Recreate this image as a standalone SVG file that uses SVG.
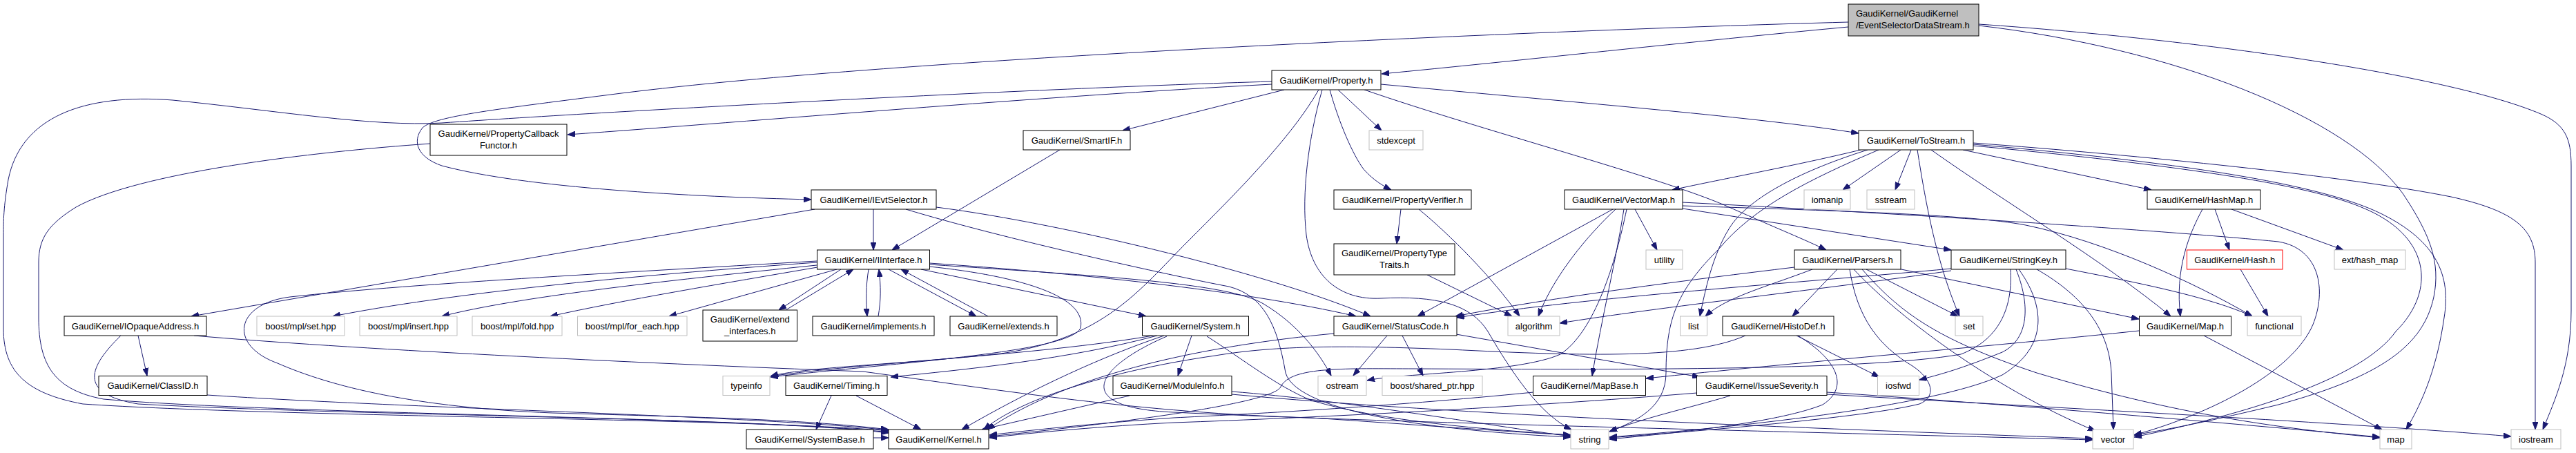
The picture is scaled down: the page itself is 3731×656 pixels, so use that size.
<svg xmlns="http://www.w3.org/2000/svg" width="3731" height="656" viewBox="0 0 3731 656">
<style>
.n rect{fill:#ffffff;stroke:#000000;stroke-width:1}
.x rect{fill:#ffffff;stroke:#bfbfbf;stroke-width:1}
.r rect{fill:#ffffff;stroke:#ff0000;stroke-width:1}
.m rect{fill:#bfbfbf;stroke:#000000;stroke-width:1}
text{font-family:"Liberation Sans",Arial,Helvetica,sans-serif;font-size:13px;fill:#000000;text-anchor:middle}
.m text{text-anchor:start}
#edges path{fill:none;stroke:#191970;stroke-width:1;marker-end:url(#a)}
</style>
<defs>
<marker id="a" viewBox="0 0 11 8" refX="11" refY="4" markerWidth="11" markerHeight="8" markerUnits="userSpaceOnUse" orient="auto">
<path d="M0,0 L11,4 L0,8 z" fill="#191970" stroke="#191970" stroke-width="1"/>
</marker>
</defs>
<rect x="0" y="0" width="3731" height="656" fill="#ffffff"/>
<g id="edges">
<path d="M2677,39 C2450,60 2200,88 2001,107"/>
<path d="M2677,32 C2200,45 1300,85 900,135 C720,158 630,168 612,185 C596,205 605,228 640,240 C760,272 1000,285 1175,289"/>
<path d="M2866,35 C3200,58 3550,110 3680,165 C3715,180 3724,200 3724,240 L3724,450 C3724,530 3700,580 3683,622"/>
<path d="M2866,37 C3150,70 3400,170 3480,280 C3520,340 3535,380 3525,430 C3510,500 3450,545 3300,586 C3200,610 3150,620 3091,630"/>
<path d="M1842,122 C1500,140 1100,175 822,195"/>
<path d="M1860,130 L1626,189"/>
<path d="M1938,130 L2001,189"/>
<path d="M1926,130 C1940,180 1960,225 1975,245 C1990,262 2005,270 2015,275"/>
<path d="M2000,122 C2300,150 2550,170 2692,193"/>
<path d="M1976,130 C2150,190 2400,255 2500,298 C2560,325 2610,345 2645,362"/>
<path d="M1915,130 C1895,200 1885,280 1892,340 C1900,400 1940,435 2000,432 C2080,428 2130,440 2155,480 C2190,540 2230,600 2276,622"/>
<path d="M1910,130 C1870,200 1790,280 1720,350 C1650,420 1600,490 1450,512 C1300,528 1160,532 1116,545"/>
<path d="M1842,118 C1500,128 900,160 640,178 C540,184 400,160 250,145 C120,135 30,170 12,260 C5,300 5,320 5,340 L5,476 C5,540 40,570 120,585 C400,604 1100,606 1287,624"/>
<path d="M623,208 C450,220 200,250 110,300 C70,325 56,345 56,380 L56,460 C56,530 80,565 150,578 C400,600 1100,604 1287,626"/>
<path d="M1535,217 L1292,362"/>
<path d="M1265,303 L1265,362"/>
<path d="M1180,303 L277,458"/>
<path d="M1356,300 C1550,325 1850,400 1985,458"/>
<path d="M1312,303 C1450,345 1700,400 1780,415 C1830,428 1850,470 1862,540 C1880,600 2100,625 2275,633"/>
<path d="M2029,303 L2023,353"/>
<path d="M2055,303 C2100,340 2160,400 2201,458"/>
<path d="M2067,398 L2190,458"/>
<path d="M2695,217 C2600,240 2500,258 2422,275"/>
<path d="M2705,217 C2600,250 2530,290 2505,330 C2480,370 2470,420 2462,458"/>
<path d="M2721,217 C2620,260 2540,300 2490,360 C2430,420 2413,460 2413,540 C2413,590 2370,610 2331,625"/>
<path d="M2753,217 L2669,275"/>
<path d="M2768,217 L2745,275"/>
<path d="M2777,217 C2790,300 2805,380 2838,458"/>
<path d="M2797,217 C2900,290 3050,380 3144,458"/>
<path d="M2843,217 L3116,275"/>
<path d="M2858,207 C3100,225 3400,255 3550,285 C3640,305 3672,330 3672,380 L3672,622"/>
<path d="M2858,209 C3100,230 3350,260 3450,310 C3530,350 3550,400 3540,460 C3530,530 3510,580 3485,622"/>
<path d="M2858,211 C3100,234 3330,262 3420,300 C3520,340 3530,420 3470,480 C3420,550 3250,600 3091,633"/>
<path d="M2336,303 L2053,458"/>
<path d="M2340,303 C2300,340 2250,400 2228,458"/>
<path d="M2352,303 C2340,380 2320,460 2306,544"/>
<path d="M2356,303 C2340,380 2310,480 2260,513 C2200,540 2030,540 1980,551"/>
<path d="M2368,303 L2400,362"/>
<path d="M2437,302 L2826,362"/>
<path d="M2437,298 C2650,305 2850,310 2934,326 C3050,350 3180,410 3262,458"/>
<path d="M2437,293 C2800,312 3150,335 3300,350 C3360,360 3370,420 3350,470 C3320,540 3200,600 3091,630"/>
<path d="M3190,303 C3170,340 3150,390 3158,458"/>
<path d="M3208,303 L3229,362"/>
<path d="M3232,303 L3394,362"/>
<path d="M3245,390 L3285,458"/>
<path d="M1183,378 C950,392 600,410 420,430 C340,440 330,500 402,526 C480,560 600,590 800,598 C1000,604 1150,606 1287,622"/>
<path d="M1183,380 C900,400 650,425 482,458"/>
<path d="M1183,384 C950,408 750,430 640,458"/>
<path d="M1184,387 C1050,410 900,435 797,458"/>
<path d="M1212,390 L969,458"/>
<path d="M1218,390 L1128,449"/>
<path d="M1138,449 L1236,390"/>
<path d="M1258,390 C1254,415 1254,435 1256,458"/>
<path d="M1272,458 C1276,435 1276,415 1273,390"/>
<path d="M1287,390 L1414,458"/>
<path d="M1431,458 L1305,390"/>
<path d="M1334,390 L1660,458"/>
<path d="M1346,381 C1550,395 1800,420 1964,458"/>
<path d="M1346,383 C1600,400 1780,410 1830,440 C1880,470 1910,510 1928,544"/>
<path d="M1346,386 C1480,400 1575,430 1565,475 C1550,510 1300,525 1116,546"/>
<path d="M2599,387 C2450,405 2250,430 2108,458"/>
<path d="M2625,390 C2560,415 2500,430 2470,458"/>
<path d="M2661,390 L2596,458"/>
<path d="M2679,390 C2690,460 2720,500 2770,530 C2800,550 2805,575 2780,585 C2700,605 2450,625 2331,634"/>
<path d="M2685,390 C2740,450 2880,560 3035,624"/>
<path d="M2697,390 C2750,450 2800,490 2950,540 C3150,600 3300,620 3447,634"/>
<path d="M2703,390 L2836,458"/>
<path d="M2749,389 L3098,462"/>
<path d="M2826,389 C2600,410 2300,430 2110,460"/>
<path d="M2826,392 C2650,418 2400,445 2259,468"/>
<path d="M2912,390 C2915,440 2900,490 2840,513 C2700,538 2300,535 2050,534 C1950,534 1870,530 1855,560 C1845,585 1600,615 1433,632"/>
<path d="M2920,390 C2940,440 2940,490 2900,510 C2850,530 2820,540 2780,550"/>
<path d="M2924,390 C2960,440 2970,500 2900,543 C2800,590 2500,620 2331,633"/>
<path d="M2950,390 C3020,430 3055,480 3058,540 L3061,622"/>
<path d="M2992,389 C3100,410 3200,430 3262,458"/>
<path d="M175,486 C130,530 110,570 200,585 C500,602 1100,604 1287,627"/>
<path d="M200,486 L213,544"/>
<path d="M281,486 C500,505 900,525 1250,538 C1450,565 1650,598 1900,605 C2050,615 2180,625 2275,630"/>
<path d="M1676,486 C1550,520 1400,535 1290,546"/>
<path d="M1670,486 C1500,515 1250,525 1116,545"/>
<path d="M1686,486 C1600,515 1500,560 1393,622"/>
<path d="M1726,486 L1706,544"/>
<path d="M1748,487 C1800,520 1850,560 1900,580 C2000,610 2150,622 2275,630"/>
<path d="M1690,487 C1590,530 1545,590 1700,597 C2000,612 2600,625 3031,637"/>
<path d="M1932,483 C1750,500 1550,540 1430,622"/>
<path d="M2009,486 L1960,544"/>
<path d="M2031,486 L2061,544"/>
<path d="M2109,484 L2462,546"/>
<path d="M2528,486 C2450,520 2300,516 2100,506 C1950,500 1850,500 1760,515 C1620,535 1480,575 1425,622"/>
<path d="M2602,486 L2722,546"/>
<path d="M2604,486 C2660,520 2680,560 2640,586 C2580,610 2450,625 2331,636"/>
<path d="M3098,479 C2900,500 2600,525 2384,548"/>
<path d="M3192,486 L3450,622"/>
<path d="M300,572 C600,592 1100,602 1287,623"/>
<path d="M1204,573 L1182,622"/>
<path d="M1240,573 L1334,622"/>
<path d="M1636,573 L1422,622"/>
<path d="M1784,567 C1950,580 2150,615 2275,632"/>
<path d="M1784,571 C2100,600 2600,620 3031,635"/>
<path d="M2221,568 C2000,590 1800,600 1700,605 C1600,612 1500,622 1433,630"/>
<path d="M2458,569 C2200,590 1900,605 1700,612 C1600,617 1500,626 1433,634"/>
<path d="M2506,573 C2450,590 2380,605 2331,625"/>
<path d="M2646,568 C2900,585 3200,610 3447,633"/>
<path d="M2646,571 C3000,592 3400,612 3637,632"/>
<path d="M1265,634 L1287,634"/>
</g>
<g id="n_main" class="m"><rect x="2677" y="6" width="189" height="46"/><text x="2688" y="24.2">GaudiKernel/GaudiKernel</text><text x="2688" y="41.2">/EventSelectorDataStream.h</text></g>
<g id="n_property" class="n"><rect x="1842" y="102" width="158" height="28"/><text x="1921" y="120.5">GaudiKernel/Property.h</text></g>
<g id="n_pcf" class="n"><rect x="623" y="180" width="198" height="45"/><text x="722" y="197.7">GaudiKernel/PropertyCallback</text><text x="722" y="214.7">Functor.h</text></g>
<g id="n_smartif" class="n"><rect x="1482" y="189" width="155" height="28"/><text x="1559.5" y="207.5">GaudiKernel/SmartIF.h</text></g>
<g id="n_stdexcept" class="x"><rect x="1983" y="189" width="78" height="28"/><text x="2022" y="207.5">stdexcept</text></g>
<g id="n_tostream" class="n"><rect x="2692" y="189" width="166" height="28"/><text x="2775" y="207.5">GaudiKernel/ToStream.h</text></g>
<g id="n_ievtselector" class="n"><rect x="1175" y="275" width="181" height="28"/><text x="1265.5" y="293.5">GaudiKernel/IEvtSelector.h</text></g>
<g id="n_propverifier" class="n"><rect x="1932" y="275" width="199" height="28"/><text x="2031.5" y="293.5">GaudiKernel/PropertyVerifier.h</text></g>
<g id="n_vectormap" class="n"><rect x="2266" y="275" width="171" height="28"/><text x="2351.5" y="293.5">GaudiKernel/VectorMap.h</text></g>
<g id="n_iomanip" class="x"><rect x="2613" y="275" width="67" height="28"/><text x="2646.5" y="293.5">iomanip</text></g>
<g id="n_sstream" class="x"><rect x="2704" y="275" width="69" height="28"/><text x="2738.5" y="293.5">sstream</text></g>
<g id="n_hashmap" class="n"><rect x="3110" y="275" width="164" height="28"/><text x="3192" y="293.5">GaudiKernel/HashMap.h</text></g>
<g id="n_iinterface" class="n"><rect x="1183.5" y="362" width="163" height="28"/><text x="1265" y="380.5">GaudiKernel/IInterface.h</text></g>
<g id="n_proptypetraits" class="n"><rect x="1932" y="353" width="175" height="45"/><text x="2019.5" y="370.7">GaudiKernel/PropertyType</text><text x="2019.5" y="387.7">Traits.h</text></g>
<g id="n_utility" class="x"><rect x="2384" y="362" width="53" height="28"/><text x="2410.5" y="380.5">utility</text></g>
<g id="n_parsers" class="n"><rect x="2599" y="362" width="154" height="28"/><text x="2676" y="380.5">GaudiKernel/Parsers.h</text></g>
<g id="n_stringkey" class="n"><rect x="2826" y="362" width="166" height="28"/><text x="2909" y="380.5">GaudiKernel/StringKey.h</text></g>
<g id="n_hash" class="r"><rect x="3167.5" y="362" width="138.5" height="28"/><text x="3236.75" y="380.5">GaudiKernel/Hash.h</text></g>
<g id="n_exthashmap" class="x"><rect x="3381" y="362" width="103" height="28"/><text x="3432.5" y="380.5">ext/hash_map</text></g>
<g id="n_iopaque" class="n"><rect x="93" y="458" width="206" height="28"/><text x="196" y="476.5">GaudiKernel/IOpaqueAddress.h</text></g>
<g id="n_mplset" class="x"><rect x="372" y="458" width="127" height="28"/><text x="435.5" y="476.5">boost/mpl/set.hpp</text></g>
<g id="n_mplinsert" class="x"><rect x="521" y="458" width="141" height="28"/><text x="591.5" y="476.5">boost/mpl/insert.hpp</text></g>
<g id="n_mplfold" class="x"><rect x="684" y="458" width="130" height="28"/><text x="749" y="476.5">boost/mpl/fold.hpp</text></g>
<g id="n_mplforeach" class="x"><rect x="836.5" y="458" width="158.5" height="28"/><text x="915.75" y="476.5">boost/mpl/for_each.hpp</text></g>
<g id="n_extendif" class="n"><rect x="1018" y="449" width="136.5" height="45"/><text x="1086.25" y="466.7">GaudiKernel/extend</text><text x="1086.25" y="483.7">_interfaces.h</text></g>
<g id="n_implements" class="n"><rect x="1177" y="458" width="176" height="28"/><text x="1265" y="476.5">GaudiKernel/implements.h</text></g>
<g id="n_extends" class="n"><rect x="1376" y="458" width="155" height="28"/><text x="1453.5" y="476.5">GaudiKernel/extends.h</text></g>
<g id="n_system" class="n"><rect x="1654.5" y="458" width="154" height="28"/><text x="1731.5" y="476.5">GaudiKernel/System.h</text></g>
<g id="n_statuscode" class="n"><rect x="1932" y="458" width="178" height="28"/><text x="2021" y="476.5">GaudiKernel/StatusCode.h</text></g>
<g id="n_algorithm" class="x"><rect x="2184" y="458" width="75" height="28"/><text x="2221.5" y="476.5">algorithm</text></g>
<g id="n_list" class="x"><rect x="2433.5" y="458" width="39" height="28"/><text x="2453" y="476.5">list</text></g>
<g id="n_histodef" class="n"><rect x="2495" y="458" width="161" height="28"/><text x="2575.5" y="476.5">GaudiKernel/HistoDef.h</text></g>
<g id="n_set" class="x"><rect x="2832" y="458" width="40" height="28"/><text x="2852" y="476.5">set</text></g>
<g id="n_maph" class="n"><rect x="3098.5" y="458" width="133" height="28"/><text x="3165" y="476.5">GaudiKernel/Map.h</text></g>
<g id="n_functional" class="x"><rect x="3255" y="458" width="78" height="28"/><text x="3294" y="476.5">functional</text></g>
<g id="n_classid" class="n"><rect x="143" y="544.5" width="157" height="28"/><text x="221.5" y="563">GaudiKernel/ClassID.h</text></g>
<g id="n_typeinfo" class="x"><rect x="1047" y="544.5" width="68" height="28"/><text x="1081" y="563">typeinfo</text></g>
<g id="n_timing" class="n"><rect x="1138" y="544.5" width="147" height="28"/><text x="1211.5" y="563">GaudiKernel/Timing.h</text></g>
<g id="n_moduleinfo" class="n"><rect x="1612" y="544.5" width="172" height="28"/><text x="1698" y="563">GaudiKernel/ModuleInfo.h</text></g>
<g id="n_ostream" class="x"><rect x="1909" y="544.5" width="70" height="28"/><text x="1944" y="563">ostream</text></g>
<g id="n_sharedptr" class="x"><rect x="2002" y="544.5" width="145" height="28"/><text x="2074.5" y="563">boost/shared_ptr.hpp</text></g>
<g id="n_mapbase" class="n"><rect x="2220.5" y="544.5" width="163" height="28"/><text x="2302" y="563">GaudiKernel/MapBase.h</text></g>
<g id="n_issueseverity" class="n"><rect x="2457.5" y="544.5" width="188.5" height="28"/><text x="2551.75" y="563">GaudiKernel/IssueSeverity.h</text></g>
<g id="n_iosfwd" class="x"><rect x="2719.5" y="544.5" width="60" height="28"/><text x="2749.5" y="563">iosfwd</text></g>
<g id="n_systembase" class="n"><rect x="1081" y="622" width="184" height="28"/><text x="1173" y="640.5">GaudiKernel/SystemBase.h</text></g>
<g id="n_kernel" class="n"><rect x="1287" y="622" width="145" height="28"/><text x="1359.5" y="640.5">GaudiKernel/Kernel.h</text></g>
<g id="n_string" class="x"><rect x="2275" y="622" width="55" height="28"/><text x="2302.5" y="640.5">string</text></g>
<g id="n_vector" class="x"><rect x="3031" y="622" width="59" height="28"/><text x="3060.5" y="640.5">vector</text></g>
<g id="n_map" class="x"><rect x="3447" y="622" width="46" height="28"/><text x="3470" y="640.5">map</text></g>
<g id="n_iostream" class="x"><rect x="3637" y="622" width="72" height="28"/><text x="3673" y="640.5">iostream</text></g>
</svg>
